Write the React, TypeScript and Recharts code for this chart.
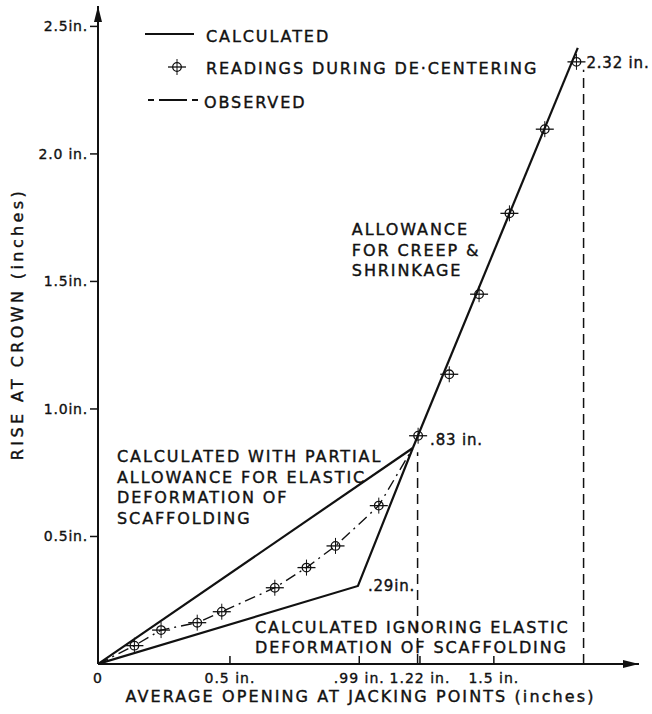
import React from 'react';
import { ComposedChart, Line, XAxis, YAxis, ReferenceDot } from 'recharts';

// readings during de-centering (inches)
const readingsX = [0.138, 0.239, 0.376, 0.469, 0.67, 0.79, 0.9, 1.064, 1.213, 1.331, 1.444, 1.559, 1.693, 1.813];
const readingsY = [0.072, 0.133, 0.162, 0.205, 0.299, 0.378, 0.463, 0.621, 0.895, 1.136, 1.45, 1.767, 2.097, 2.361];

// observed curve (dash-dot), origin through readings to the .83 junction
const observedX = [0, 0.138, 0.239, 0.376, 0.469, 0.67, 0.79, 0.9, 1.064, 1.193];
const observedY = [0, 0.072, 0.133, 0.162, 0.205, 0.299, 0.378, 0.463, 0.621, 0.847];

// calculated lines
const partialX = [0, 1.193];
const partialY = [0, 0.847];
const ignoringX = [0, 0.985, 1.193];
const ignoringY = [0, 0.306, 0.847];
const creepX = [1.193, 1.818];
const creepY = [0.847, 2.416];

// dashed verticals
const drop1X = [1.211, 1.211];
const drop1Y = [0, 0.83];
const drop2X = [1.84, 1.84];
const drop2Y = [0, 2.33];

const xTicks = [0, 0.5, 0.99, 1.22, 1.5];
const xTickLabels = ['0', '0.5 in.', '.99 in.', '1.22 in.', '1.5 in.'];
const yTicks = [0.5, 1.0, 1.5, 2.0, 2.5];
const yTickLabels = ['0.5in.', '1.0in.', '1.5in.', '2.0 in.', '2.5in.'];

const zip = (xs: number[], ys: number[]) => xs.map((x, i) => ({ x, y: ys[i] }));

const FONT = '"DejaVu Sans", sans-serif';
const INK = '#111';

const Marker = (props: any) => {
  const { cx, cy } = props;
  if (cx == null || cy == null) return null;
  return (
    <g stroke={INK} fill="none" strokeWidth={1.3}>
      <circle cx={cx} cy={cy} r={4.3} />
      <line x1={cx - 9} x2={cx + 9} y1={cy} y2={cy} />
      <line x1={cx} x2={cx} y1={cy - 8} y2={cy + 8} strokeWidth={1} />
    </g>
  );
};

const XTick = (props: any) => {
  const { x, y, payload } = props;
  const i = xTicks.indexOf(payload.value);
  return (
    <g>
      {payload.value !== 0 && <line x1={x} x2={x} y1={y} y2={y - 8} stroke={INK} strokeWidth={1.5} />}
      <text x={x} y={y + 19} textAnchor="middle" fontFamily={FONT} fontSize={14} letterSpacing={1}
        fill={INK} stroke={INK} strokeWidth={0.35}>
        {xTickLabels[i]}
      </text>
    </g>
  );
};

const YTick = (props: any) => {
  const { x, y, payload } = props;
  const i = yTicks.indexOf(payload.value);
  return (
    <g>
      <line x1={x - 8} x2={x} y1={y} y2={y} stroke={INK} strokeWidth={1.5} />
      <text x={x - 10} y={y + 5} textAnchor="end" fontFamily={FONT} fontSize={14} letterSpacing={0.8}
        fill={INK} stroke={INK} strokeWidth={0.35}>
        {yTickLabels[i]}
      </text>
    </g>
  );
};

const Note = ({ cx, cy, lines, size = 16, ls = 1.9 }: any) => (
  <text x={cx} y={cy} fontFamily={FONT} fontSize={size} letterSpacing={ls} fill={INK} stroke={INK} strokeWidth={0.4}>
    {lines.map((l: string, i: number) => (
      <tspan key={i} x={cx} dy={i ? 20.5 : 0}>{l}</tspan>
    ))}
  </text>
);

const Legend = () => (
  <svg width={420} height={120} style={{ position: 'absolute', left: 130, top: 15 }}>
    <g fontFamily={FONT} fontSize={16} letterSpacing={1.9} fill={INK}>
      <line x1={15} x2={64} y1={19} y2={19} stroke={INK} strokeWidth={2} />
      <text x={76} y={27} stroke={INK} strokeWidth={0.4}>CALCULATED</text>
      <Marker cx={47} cy={52} />
      <text x={76} y={59} stroke={INK} strokeWidth={0.4}>READINGS DURING DE·CENTERING</text>
      <line x1={18} x2={70} y1={85} y2={85} stroke={INK} strokeWidth={2} strokeDasharray="6 5 28 5 6" />
      <text x={74} y={93} stroke={INK} strokeWidth={0.4}>OBSERVED</text>
    </g>
  </svg>
);

export default function App() {
  return (
    <div style={{ position: 'absolute', left: 0, top: 0, width: 652, height: 714, background: '#fff' }}>
      <ComposedChart width={652} height={714} margin={{ top: 6, right: 13, bottom: 0, left: 0 }}>
        <XAxis
          type="number"
          dataKey="x"
          domain={[0, 2.05]}
          ticks={xTicks}
          interval={0}
          tick={<XTick />}
          tickLine={false}
          tickSize={0}
          tickMargin={0}
          height={50}
          axisLine={{ stroke: INK, strokeWidth: 2 }}
          allowDataOverflow
          label={{
            content: (p: any) => (
              <text
                x={p.viewBox.x + p.viewBox.width / 2 - 8}
                y={p.viewBox.y + 38}
                textAnchor="middle"
                fontFamily={FONT}
                fontSize={16}
                letterSpacing={2.1}
                fill={INK}
                stroke={INK}
                strokeWidth={0.4}
              >
                AVERAGE OPENING AT JACKING POINTS (inches)
              </text>
            ),
          }}
        />
        <YAxis
          type="number"
          dataKey="y"
          domain={[0, 2.58]}
          ticks={yTicks}
          interval={0}
          tick={<YTick />}
          tickLine={false}
          tickSize={0}
          tickMargin={0}
          width={98}
          axisLine={{ stroke: INK, strokeWidth: 2 }}
          allowDataOverflow
          label={{
            content: () => {
              const cx = 17;
              const cy = 324;
              return (
                <text
                  x={cx}
                  y={cy}
                  transform={`rotate(-90 ${cx} ${cy})`}
                  textAnchor="middle"
                  dominantBaseline="central"
                  fontFamily={FONT}
                  fontSize={16}
                  letterSpacing={3.4}
                  fill={INK}
                  stroke={INK}
                  strokeWidth={0.4}
                >
                  RISE AT CROWN (inches)
                </text>
              );
            },
          }}
        />

        <Line data={zip(drop1X, drop1Y)} dataKey="y" stroke={INK} strokeWidth={1.5} strokeDasharray="10 6" dot={false} isAnimationActive={false} />
        <Line data={zip(drop2X, drop2Y)} dataKey="y" stroke={INK} strokeWidth={1.5} strokeDasharray="10 6" dot={false} isAnimationActive={false} />

        <Line data={zip(partialX, partialY)} dataKey="y" stroke={INK} strokeWidth={2.2} dot={false} isAnimationActive={false} />
        <Line data={zip(ignoringX, ignoringY)} dataKey="y" stroke={INK} strokeWidth={2.2} dot={false} isAnimationActive={false} />
        <Line data={zip(creepX, creepY)} dataKey="y" stroke={INK} strokeWidth={2.2} dot={false} isAnimationActive={false} />
        <Line data={zip(observedX, observedY)} dataKey="y" stroke={INK} strokeWidth={1.4} strokeDasharray="11 5 2 5" dot={false} isAnimationActive={false} />
        <Line data={zip(readingsX, readingsY)} dataKey="y" stroke="none" dot={<Marker />} isAnimationActive={false} />

        {/* axis arrowheads */}
        <ReferenceDot
          x={0}
          y={2.58}
          ifOverflow="visible"
          shape={(p: any) => <path d={`M${p.cx - 4},${p.cy + 16} L${p.cx},${p.cy} L${p.cx + 4},${p.cy + 16} Z`} fill={INK} />}
        />
        <ReferenceDot
          x={2.05}
          y={0}
          ifOverflow="visible"
          shape={(p: any) => <path d={`M${p.cx - 16},${p.cy - 4} L${p.cx},${p.cy} L${p.cx - 16},${p.cy + 4} Z`} fill={INK} />}
        />

        {/* value labels */}
        <ReferenceDot x={1.813} y={2.361} ifOverflow="visible"
          shape={(p: any) => <Note cx={p.cx + 10} cy={p.cy + 6} lines={['2.32 in.']} size={15} ls={0.8} />} />
        <ReferenceDot x={1.213} y={0.895} ifOverflow="visible"
          shape={(p: any) => <Note cx={p.cx + 12} cy={p.cy + 9} lines={['.83 in.']} size={15} ls={0.8} />} />
        <ReferenceDot x={0.985} y={0.306} ifOverflow="visible"
          shape={(p: any) => <Note cx={p.cx + 10} cy={p.cy + 5} lines={['.29in.']} size={15} ls={0.8} />} />

        {/* annotations */}
        <ReferenceDot x={0.962} y={1.682} ifOverflow="visible"
          shape={(p: any) => <Note cx={p.cx} cy={p.cy} lines={['ALLOWANCE', 'FOR CREEP &', 'SHRINKAGE']} />} />
        <ReferenceDot x={0.072} y={0.792} ifOverflow="visible"
          shape={(p: any) => <Note cx={p.cx} cy={p.cy} lines={['CALCULATED WITH PARTIAL', 'ALLOWANCE FOR ELASTIC', 'DEFORMATION OF', 'SCAFFOLDING']} />} />
        <ReferenceDot x={0.595} y={0.1216} ifOverflow="visible"
          shape={(p: any) => <Note cx={p.cx} cy={p.cy} lines={['CALCULATED IGNORING ELASTIC', 'DEFORMATION OF SCAFFOLDING']} />} />
      </ComposedChart>
      <Legend />
    </div>
  );
}
